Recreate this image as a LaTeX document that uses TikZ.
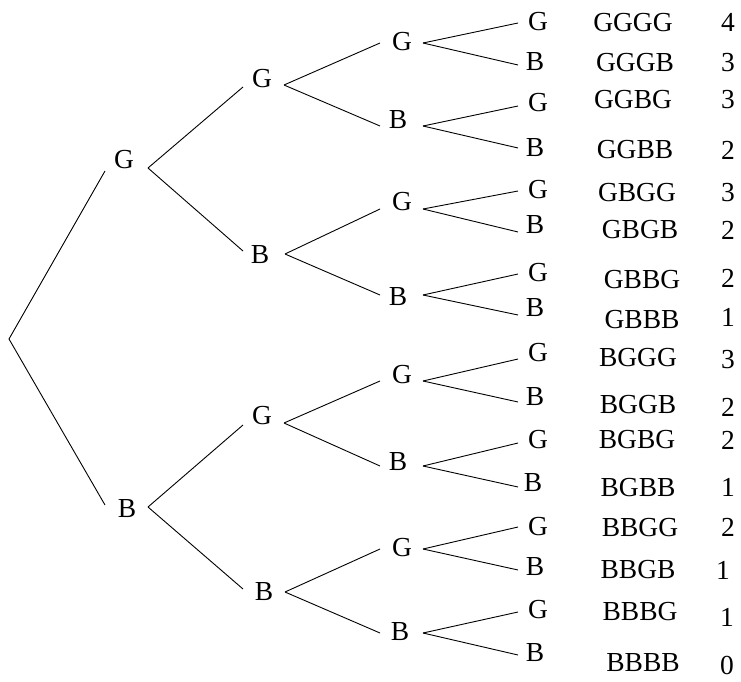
\documentclass[tikz,border=0pt]{standalone}
\usepackage{fontspec}
\setmainfont{Liberation Serif}
\begin{document}
\begin{tikzpicture}[x=1pt,y=-1pt,
  lbl/.style={inner sep=0pt,font=\fontsize{27.5}{27.5}\selectfont},
  br/.style={line width=0.9pt,black}]
\useasboundingbox (0,0) rectangle (741,682);
% root
\coordinate (r) at (9,339);
% level 1
\node[lbl] (n1) at (124,160) {G};
\node[lbl] (n2) at (127,509) {B};
\coordinate (n1in) at (105,171);
\coordinate (n2in) at (105,505);
\coordinate (n1out) at (148,168);
\coordinate (n2out) at (148,507);
\draw[br] (n1in) -- (r) -- (n2in);
% level 2
\foreach \j/\t/\x/\y/\iny/\ax/\ay/\p in {
  1/G/262/79/87/284/85/1,
  2/B/260/255/251/285/254/1,
  3/G/262/416/425/284/423/2,
  4/B/264/592/589/285/592/2}{
  \node[lbl] (m\j) at (\x,\y) {\t};
  \coordinate (m\j in) at (243,\iny);
  \coordinate (m\j out) at (\ax,\ay);
  \draw[br] (n\p out) -- (m\j in);
}
% level 3
\foreach \i/\t/\x/\y/\ay/\p in {
  1/G/402/42/43/1, 2/B/398/120/126/1,
  3/G/402/202/209/2, 4/B/398/297/295/2,
  5/G/402/375/381/3, 6/B/398/462/466/3,
  7/G/402/548/549/4, 8/B/400/632/633/4}{
  \node[lbl] (q\i) at (\x,\y) {\t};
  \coordinate (q\i in) at (380,\ay);
  \coordinate (q\i out) at (423,\ay);
  \draw[br] (m\p out) -- (q\i in);
}
% level 4 (leaves)
\foreach \k/\t/\x/\y/\ey/\p in {
  1/G/538/22/23/1, 2/B/535/62/65/1,
  3/G/538/103/106/2, 4/B/535/148/148/2,
  5/G/538/190/191/3, 6/B/535/225/232/3,
  7/G/538/273/274/4, 8/B/535/308/315/4,
  9/G/538/353/359/5, 10/B/535/397/402/5,
  11/G/538/440/443/6, 12/B/533/483/487/6,
  13/G/538/527/527/7, 14/B/535/567/570/7,
  15/G/538/610/612/8, 16/B/535/653/655/8}{
  \node[lbl] (s\k) at (\x,\y) {\t};
  \coordinate (s\k in) at (518,\ey);
  \draw[br] (q\p out) -- (s\k in);
}
% outcomes and counts
\foreach \k/\t/\x/\y/\c/\cx/\cy in {
  1/GGGG/633/23/4/728/22, 2/GGGB/635/63/3/728/63,
  3/GGBG/633/100/3/728/100, 4/GGBB/635/150/2/728/150,
  5/GBGG/637/193/3/728/193, 6/GBGB/640/230/2/728/230,
  7/GBBG/642/280/2/728/278, 8/GBBB/642/320/1/728/317,
  9/BGGG/638/358/3/728/360, 10/BGGB/638/405/2/728/407,
  11/BGBG/637/440/2/728/440, 12/BGBB/638/488/1/728/487,
  13/BBGG/640/528/2/728/527, 14/BBGB/638/570/1/723/570,
  15/BBBG/640/612/1/727/617, 16/BBBB/643/663/0/727/665}{
  \node[lbl] (o\k) at (\x,\y) {\t};
  \node[lbl] (c\k) at (\cx,\cy) {\c};
}
\end{tikzpicture}
\end{document}
